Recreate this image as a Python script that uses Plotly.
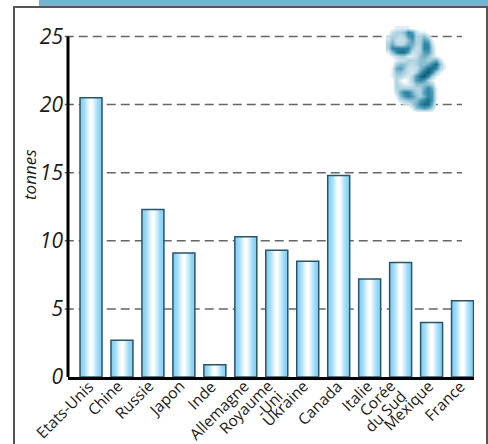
import plotly.graph_objects as go

pays = ["Etats-Unis", "Chine", "Russie", "Japon", "Inde", "Allemagne", "Royaume-Uni",
        "Ukraine", "Canada", "Italie", "Corée du Sud", "Mexique", "France"]
tonnes = [20.5, 2.7, 12.3, 9.1, 0.9, 10.3, 9.3, 8.5, 14.8, 7.2, 8.4, 4.0, 5.6]
graduations = [0, 5, 10, 15, 20, 25]

# Label lines per country with their (x, y) pixel nudges from the bar centre
etiquettes = {
    "Etats-Unis": [("Etats-Unis", 9, 3)], "Chine": [("Chine", 6, 3)], "Russie": [("Russie", 7, 3)],
    "Japon": [("Japon", 7, 3)], "Inde": [("Inde", 7, 3)], "Allemagne": [("Allemagne", 9, 3)],
    "Royaume-Uni": [("Royaume", 2, 3), ("-Uni", 12, -7)], "Ukraine": [("Ukraine", 7, 3)],
    "Canada": [("Canada", 9, 3)], "Italie": [("Italie", 8, 3)],
    "Corée du Sud": [("Corée", 1, 3), ("du Sud", 12, -7)], "Mexique": [("Mexique", 8, 3)],
    "France": [("France", 8, 3)],
}

# Horizontal shading of each bar: nested bars, from the edge colour to the white core
degrade = ["#84d0f5", "#8ad3f6", "#94d7f6", "#a2dcf7", "#b4e3f9", "#c8ebfa", "#dcf3fc", "#eefafe", "#ffffff"]
LARGEUR = 0.71

# Plot box in page pixels
GAUCHE, DROITE, HAUT, BAS = 68, 474, 20, 377
def px(x):
    return (x - GAUCHE) / (DROITE - GAUCHE)
def py(y):
    return (BAS - y) / (BAS - HAUT)

# Question-mark ornament: ink density on a coarse pixel grid, smoothed when drawn
orn_x = list(range(388, 448, 4))
orn_y = list(range(28, 116, 4))
orn_z = [
    [0, 0, 1, 1, 1, 1, 0, 0, 0, 0, 0, 0, 0, 0, 0],
    [0, 2, 3, 3, 4, 7, 6, 2, 1, 1, 0, 0, 0, 0, 0],
    [1, 3, 3, 2, 3, 6, 7, 3, 3, 4, 2, 0, 0, 0, 0],
    [2, 4, 2, 2, 2, 4, 6, 3, 3, 6, 5, 1, 0, 0, 0],
    [3, 5, 3, 2, 3, 5, 5, 3, 3, 7, 7, 2, 0, 0, 0],
    [3, 7, 7, 7, 7, 7, 4, 2, 3, 7, 7, 3, 0, 0, 0],
    [1, 4, 7, 8, 8, 6, 2, 2, 3, 6, 6, 3, 0, 0, 0],
    [0, 1, 2, 3, 3, 1, 1, 2, 4, 5, 4, 2, 1, 0, 0],
    [0, 0, 1, 2, 2, 3, 3, 3, 4, 4, 3, 4, 5, 2, 0],
    [0, 0, 3, 4, 4, 3, 2, 3, 4, 4, 5, 7, 8, 4, 1],
    [0, 1, 5, 6, 4, 2, 2, 2, 4, 6, 8, 8, 7, 3, 1],
    [0, 1, 4, 4, 3, 2, 1, 3, 6, 8, 9, 7, 3, 1, 0],
    [0, 1, 3, 3, 2, 1, 3, 6, 8, 9, 7, 3, 1, 0, 0],
    [0, 0, 3, 1, 0, 1, 3, 6, 7, 6, 3, 1, 0, 0, 0],
    [0, 0, 3, 2, 1, 1, 2, 4, 4, 4, 4, 3, 0, 0, 0],
    [0, 0, 3, 3, 3, 3, 3, 3, 3, 5, 7, 5, 1, 0, 0],
    [0, 0, 2, 5, 7, 7, 5, 3, 3, 6, 7, 6, 1, 0, 0],
    [0, 0, 1, 4, 6, 7, 6, 4, 3, 5, 7, 6, 1, 0, 0],
    [0, 0, 0, 2, 3, 4, 4, 4, 6, 7, 8, 6, 1, 0, 0],
    [0, 0, 0, 0, 1, 1, 3, 5, 7, 8, 8, 5, 0, 0, 0],
    [0, 0, 0, 0, 0, 0, 1, 4, 5, 6, 5, 3, 0, 0, 0],
    [0, 0, 0, 0, 0, 0, 0, 0, 0, 0, 0, 0, 0, 0, 0],
]

fig = go.Figure()
for i, couleur in enumerate(degrade):
    fig.add_bar(x=pays, y=tonnes, width=LARGEUR * (1 - i / len(degrade)),
                marker=dict(color=couleur, line=dict(width=0)), hoverinfo="skip")
fig.add_bar(x=pays, y=tonnes, width=LARGEUR,
            marker=dict(color="rgba(0,0,0,0)", line=dict(color="#2b5468", width=1.5)))

fig.add_heatmap(x=orn_x, y=orn_y, z=orn_z, xaxis="x2", yaxis="y2", zsmooth="best", zmin=0, zmax=9,
                showscale=False, hoverinfo="skip",
                colorscale=[[0, "rgba(255,255,255,0)"], [0.12, "rgba(214,233,241,0.9)"], [0.33, "#aed3e1"],
                            [0.55, "#6fadc4"], [0.78, "#2a86a3"], [1, "#0f5a75"]])

# Dashed grid lines, each starting with a short stub left of the axis
for g in graduations[1:]:
    fig.add_shape(type="line", xref="paper", yref="y", x0=-0.008, x1=px(462), y0=g, y1=g,
                  line=dict(color="#666666", width=1.5, dash="9px,5px"), layer="below")

# Vertical axis stops at the top graduation
fig.add_shape(type="line", xref="paper", yref="y", x0=0, x1=0, y0=0, y1=25,
              line=dict(color="black", width=3), layer="below")

# Page frame and clipped title band
fig.add_shape(type="rect", xref="paper", yref="paper", x0=px(14), x1=px(487), y0=py(470), y1=py(7),
              line=dict(color="#555555", width=2), layer="below")
fig.add_shape(type="rect", xref="paper", yref="paper", x0=px(39), x1=px(495), y0=py(6), y1=py(-5),
              line=dict(width=0), fillcolor="#77b4d1", layer="below")

# Country labels, right-anchored beneath each bar
annotations = []
for p in pays:
    for ligne, dx, dy in etiquettes[p]:
        annotations.append(dict(x=p, y=0, xref="x", yref="y", text=ligne, textangle=-45, showarrow=False,
                                xanchor="right", yanchor="top", xshift=dx, yshift=dy, borderpad=0,
                                font=dict(family="Open Sans", size=15.5, color="#1a1a1a")))
annotations.append(dict(x=px(29), y=py(175), xref="paper", yref="paper", text="tonnes", textangle=-90,
                        xanchor="center", yanchor="middle", showarrow=False,
                        font=dict(family="Open Sans", size=17, color="#1a1a1a", style="italic")))

fig.update_layout(
    width=488, height=444,
    margin=dict(l=GAUCHE, r=488 - DROITE, t=HAUT, b=444 - BAS, autoexpand=False),
    barmode="overlay", showlegend=False,
    plot_bgcolor="white", paper_bgcolor="white", annotations=annotations,
    xaxis=dict(type="category", ticks="", showticklabels=False, showgrid=False, showline=True,
               linecolor="black", linewidth=3, range=[-0.743, 12.37], layer="below traces",
               categoryorder="array", categoryarray=pays, automargin=False),
    yaxis=dict(range=[0, 26.21], tickvals=graduations, showgrid=False, zeroline=False, showline=False,
               ticks="", automargin=False, ticklabelstandoff=4,
               tickfont=dict(family="Open Sans", size=21, color="#1a1a1a", style="italic")),
    xaxis2=dict(overlaying="x", range=[GAUCHE, DROITE], visible=False),
    yaxis2=dict(overlaying="y", range=[BAS, HAUT], visible=False),
)
fig.write_html("out.html", config=dict(displayModeBar=False))
